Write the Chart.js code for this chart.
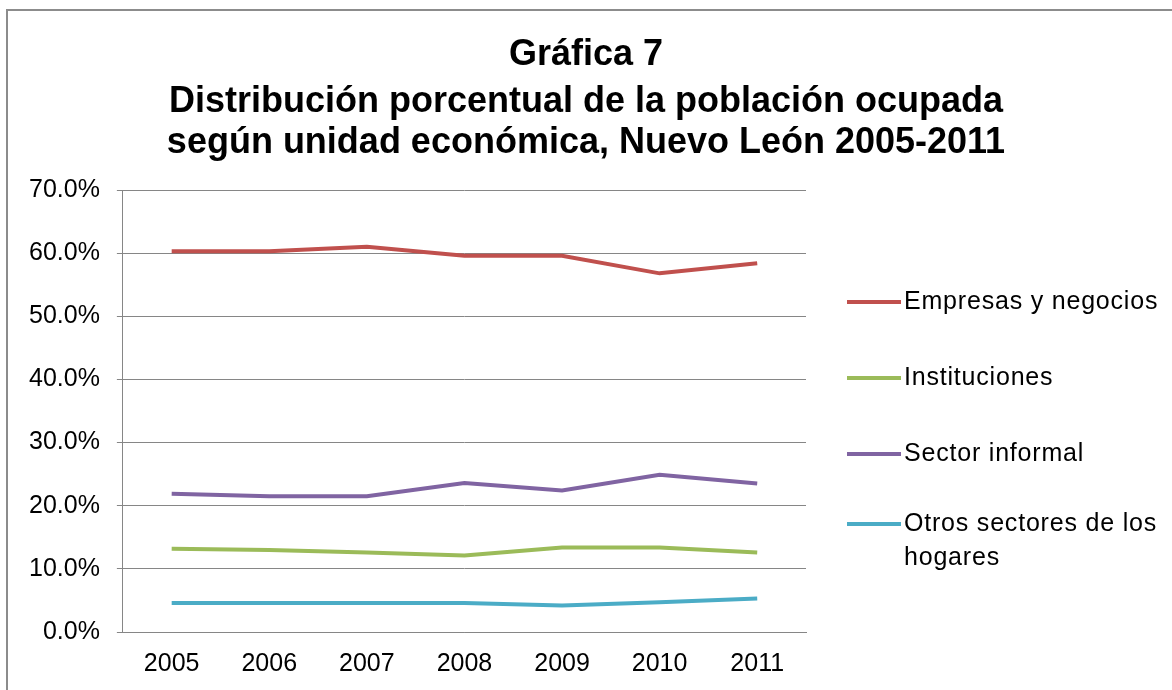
<!DOCTYPE html>
<html>
<head>
<meta charset="utf-8">
<script src="https://cdn.jsdelivr.net/npm/chart.js@4"></script>
<style>
  html, body { margin: 0; padding: 0; background: #fff; }
  #wrap { width: 1172px; height: 690px; position: relative; }
</style>
</head>
<body>
<div id="wrap"><canvas id="grafica" width="1172" height="690"></canvas></div>
<script>
// Datos
const anios = ['2005', '2006', '2007', '2008', '2009', '2010', '2011'];
const nombres = ['Empresas y negocios', 'Instituciones', 'Sector informal', 'Otros sectores de los hogares'];
const empresas = [60.3, 60.3, 61.0, 59.6, 59.6, 56.8, 58.4];
const instituciones = [13.2, 13.0, 12.6, 12.1, 13.4, 13.4, 12.6];
const informal = [21.9, 21.5, 21.5, 23.6, 22.4, 24.9, 23.5];
const otros = [4.6, 4.6, 4.6, 4.6, 4.2, 4.7, 5.3];
const colores = ['#C0504D', '#9BBB59', '#8064A2', '#4BACC6'];
const titulo = ['Gráfica 7', 'Distribución porcentual de la población ocupada', 'según unidad económica, Nuevo León 2005-2011'];

const fuente = "'Liberation Sans', Arial, sans-serif";

// marco gris, título centrado en toda la imagen y leyenda partida en renglones
const marcoYLeyenda = {
  id: 'marcoYLeyenda',
  beforeDraw(chart) {
    const ctx = chart.ctx;
    ctx.save();
    ctx.strokeStyle = '#8c8c8c';
    ctx.lineWidth = 2;
    ctx.beginPath();
    ctx.moveTo(7, 690);
    ctx.lineTo(7, 10);
    ctx.lineTo(1172, 10);
    ctx.stroke();

    ctx.fillStyle = '#000';
    ctx.font = 'bold 36px ' + fuente;
    ctx.textAlign = 'center';
    ctx.textBaseline = 'alphabetic';
    const bases = [65, 112, 153];
    titulo.forEach((t, i) => ctx.fillText(t, 586, bases[i]));
    ctx.restore();
  },
  afterDraw(chart) {
    const ctx = chart.ctx;
    ctx.save();
    ctx.font = '25px ' + fuente;
    ctx.letterSpacing = '0.8px';
    ctx.fillStyle = '#000';
    ctx.textBaseline = 'middle';
    const x0 = 847, largo = 54, maxAncho = 275;
    let y = 302;
    chart.data.datasets.forEach((ds) => {
      // partir el texto en renglones
      const palabras = ds.label.split(' ');
      const lineas = [];
      let actual = '';
      palabras.forEach(p => {
        const prueba = actual ? actual + ' ' + p : p;
        if (ctx.measureText(prueba).width > maxAncho && actual) {
          lineas.push(actual);
          actual = p;
        } else {
          actual = prueba;
        }
      });
      lineas.push(actual);
      const y1 = y - (lineas.length - 1) * 6;
      ctx.strokeStyle = ds.borderColor;
      ctx.lineWidth = 4;
      ctx.beginPath();
      ctx.moveTo(x0, y1);
      ctx.lineTo(x0 + largo, y1);
      ctx.stroke();
      lineas.forEach((l, i) => ctx.fillText(l, x0 + largo + 3, y1 + i * 34));
      y += 76;
    });
    ctx.restore();
  }
};

const ctx = document.getElementById('grafica').getContext('2d');
new Chart(ctx, {
  type: 'line',
  data: {
    labels: anios,
    datasets: [empresas, instituciones, informal, otros].map((serie, i) => ({
      label: nombres[i],
      data: serie,
      borderColor: colores[i],
      backgroundColor: colores[i],
      borderWidth: 4,
      pointRadius: 0,
      tension: 0,
      fill: false
    }))
  },
  options: {
    responsive: false,
    animation: false,
    layout: { padding: { left: 12, right: 366, top: 190, bottom: 11 } },
    plugins: {
      legend: { display: false },
      tooltip: { enabled: false },
      title: { display: false }
    },
    scales: {
      x: {
        offset: true,
        grid: { display: false, drawTicks: false },
        border: { display: true, color: '#868686', width: 1 },
        ticks: { color: '#000', font: { family: fuente, size: 25 }, padding: 17 },
        afterFit: (s) => { s.height = 47; }
      },
      y: {
        min: 0,
        max: 70,
        grid: { color: '#868686', lineWidth: 1, tickLength: 6 },
        border: { display: true, color: '#868686', width: 1 },
        ticks: {
          stepSize: 10,
          color: '#000',
          font: { family: fuente, size: 25 },
          padding: 17,
          callback: v => v.toFixed(1) + '%'
        }
      }
    }
  },
  plugins: [marcoYLeyenda]
});
</script>
</body>
</html>
